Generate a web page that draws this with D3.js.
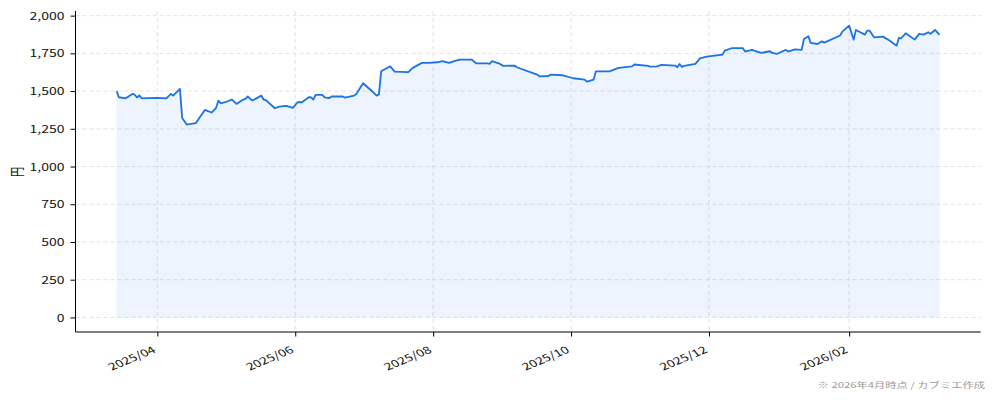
<!DOCTYPE html>
<html>
<head>
<meta charset="utf-8">
<script src="https://cdn.jsdelivr.net/npm/d3@7"></script>
<style>
  body { margin: 0; background: #fff; }
  text { font-family: "Noto Sans CJK JP", "Noto Sans", sans-serif; }
</style>
</head>
<body>
<div id="chart"></div>
<script>
"use strict"

// daily close (yen)
let dates = [
  "2025-03-14","2025-03-15","2025-03-18","2025-03-21","2025-03-22","2025-03-23","2025-03-24","2025-03-25",
  "2025-04-01","2025-04-05","2025-04-07","2025-04-08","2025-04-11","2025-04-12","2025-04-14","2025-04-18",
  "2025-04-22","2025-04-25","2025-04-27","2025-04-28","2025-04-29","2025-05-01","2025-05-04","2025-05-06",
  "2025-05-09","2025-05-10","2025-05-11","2025-05-13","2025-05-17","2025-05-18","2025-05-19","2025-05-23",
  "2025-05-25","2025-05-28","2025-05-31","2025-06-02","2025-06-04","2025-06-07","2025-06-08","2025-06-09",
  "2025-06-10","2025-06-13","2025-06-14","2025-06-16","2025-06-17","2025-06-22","2025-06-23","2025-06-27",
  "2025-06-28","2025-07-01","2025-07-05","2025-07-07","2025-07-08","2025-07-09","2025-07-13","2025-07-15",
  "2025-07-21","2025-07-23","2025-07-27","2025-07-30","2025-08-03","2025-08-05","2025-08-08","2025-08-11",
  "2025-08-13","2025-08-18","2025-08-20","2025-08-25","2025-08-26","2025-08-27","2025-08-30","2025-09-01",
  "2025-09-06","2025-09-07","2025-09-16","2025-09-17","2025-09-21","2025-09-22","2025-09-27","2025-10-02",
  "2025-10-07","2025-10-08","2025-10-11","2025-10-12","2025-10-18","2025-10-22","2025-10-28","2025-10-29",
  "2025-11-04","2025-11-05","2025-11-08","2025-11-10","2025-11-16","2025-11-17","2025-11-18","2025-11-19",
  "2025-11-20","2025-11-25","2025-11-27","2025-11-30","2025-12-07","2025-12-08","2025-12-11","2025-12-16",
  "2025-12-17","2025-12-20","2025-12-24","2025-12-28","2025-12-29","2025-12-31","2026-01-04","2026-01-05",
  "2026-01-08","2026-01-11","2026-01-12","2026-01-14","2026-01-15","2026-01-18","2026-01-20","2026-01-21",
  "2026-01-28","2026-01-29","2026-02-01","2026-02-03","2026-02-04","2026-02-08","2026-02-09","2026-02-10",
  "2026-02-12","2026-02-16","2026-02-19","2026-02-22","2026-02-23","2026-02-24","2026-02-26","2026-03-02",
  "2026-03-04","2026-03-06","2026-03-08","2026-03-09","2026-03-11","2026-03-13"
];
let prices = [
  1500,1459,1452,1481,1476,1457,1472,1452,
  1455,1452,1481,1470,1514,1322,1278,1287,
  1375,1358,1389,1437,1419,1426,1444,1415,
  1444,1449,1464,1437,1470,1444,1440,1386,
  1397,1402,1389,1426,1426,1459,1459,1444,
  1475,1475,1459,1453,1464,1464,1457,1470,
  1481,1552,1499,1470,1477,1631,1664,1629,
  1625,1654,1687,1687,1691,1698,1687,1702,
  1709,1709,1684,1684,1680,1698,1684,1667,
  1669,1658,1609,1598,1600,1609,1605,1585,
  1576,1563,1576,1631,1631,1654,1664,1676,
  1667,1662,1664,1673,1669,1658,1680,1660,
  1667,1680,1717,1728,1742,1768,1784,1784,
  1762,1773,1753,1764,1753,1746,1773,1762,
  1777,1773,1845,1863,1819,1812,1830,1821,
  1868,1894,1934,1841,1905,1874,1901,1901,
  1856,1861,1834,1801,1852,1850,1883,1841,
  1879,1874,1890,1879,1905,1872
];
let yTicks = [0, 250, 500, 750, 1000, 1250, 1500, 1750, 2000];
let yLabel = "円";
let footNote = "※ 2026年4月時点 / カブミエ作成";

let width = 994, height = 400;
let plotLeft = 75.5, plotRight = 980.7, plotTop = 11, plotBottom = 332;
/* the original picture looks squeezed vertically, text too */
let squash = 0.72;

let parse = d3.timeParse("%Y-%m-%d");
let data = dates.map((d, i) => ({ date: parse(d), price: prices[i] }));

let svg = d3.select("#chart")
    .append("svg")
    .attr("width", width)
    .attr("height", height);

/* 5% padding on both sides like the original */
let xExt = d3.extent(data, d => d.date);
let pad = (xExt[1] - xExt[0]) * 0.05;
let x = d3.scaleTime()
    .domain([new Date(+xExt[0] - pad), new Date(+xExt[1] + pad)])
    .range([plotLeft, plotRight]);

let yMax = d3.max(prices);
let y = d3.scaleLinear()
    .domain([-yMax * 0.05, yMax * 1.05])
    .range([plotBottom, plotTop]);

let xTicks = d3.timeMonth.range(xExt[0], xExt[1]).filter(d => d.getMonth() % 2 === 1);

/* grid */
let grid = svg.append("g")
    .attr("stroke", "#dcdcdc")
    .attr("stroke-width", 0.8)
    .attr("stroke-dasharray", "4,3");

grid.selectAll(".gy")
    .data(yTicks)
    .enter()
    .append("line")
    .attr("x1", plotLeft)
    .attr("x2", plotRight)
    .attr("y1", d => y(d))
    .attr("y2", d => y(d));

grid.selectAll(".gx")
    .data(xTicks)
    .enter()
    .append("line")
    .attr("x1", d => x(d))
    .attr("x2", d => x(d))
    .attr("y1", plotTop)
    .attr("y2", plotBottom);

/* area under the line */
let area = d3.area()
    .x(d => x(d.date))
    .y0(y(0))
    .y1(d => y(d.price));

svg.append("path")
    .datum(data)
    .attr("d", area)
    .attr("fill", "#1a73e8")
    .attr("fill-opacity", 0.08);

let line = d3.line()
    .x(d => x(d.date))
    .y(d => y(d.price));

svg.append("path")
    .datum(data)
    .attr("d", line)
    .attr("fill", "none")
    .attr("stroke", "#1a73e8")
    .attr("stroke-width", 1.8)
    .attr("stroke-linejoin", "round");

/* axes */
let yAxis = svg.append("g")
    .attr("transform", `translate(${plotLeft},0)`)
    .call(d3.axisLeft(y).tickValues(yTicks).tickFormat(d3.format(",")).tickSize(5));

yAxis.select(".domain").attr("d", `M0,${plotTop}V${plotBottom}`);

let xAxis = svg.append("g")
    .attr("transform", `translate(0,${plotBottom})`)
    .call(d3.axisBottom(x).tickValues(xTicks).tickFormat(d3.timeFormat("%Y/%m")).tickSize(4.5));

xAxis.select(".domain").attr("d", `M${plotLeft},0H${plotRight}`);

svg.selectAll(".domain").attr("stroke", "#000").attr("stroke-width", 1);
svg.selectAll(".tick line").attr("stroke", "#000");
svg.selectAll(".tick text")
    .attr("fill", "#111")
    .style("font-size", "14px");

yAxis.selectAll(".tick text")
    .attr("x", 0)
    .attr("dy", 0)
    .attr("transform", `translate(-11,3.6) scale(1,${squash})`);

xAxis.selectAll(".tick text")
    .attr("text-anchor", "end")
    .attr("y", 0)
    .attr("dy", 0)
    .attr("transform", `translate(-1,20) scale(1,${squash}) rotate(-30)`);

svg.append("text")
    .attr("transform", `translate(22,172) scale(1,${squash}) rotate(-90)`)
    .attr("text-anchor", "middle")
    .attr("fill", "#111")
    .style("font-size", "14px")
    .text(yLabel);

svg.append("text")
    .attr("transform", `translate(985,387.5) scale(1,${squash})`)
    .attr("text-anchor", "end")
    .attr("fill", "#999")
    .style("font-size", "11.3px")
    .text(footNote);
</script>
</body>
</html>
